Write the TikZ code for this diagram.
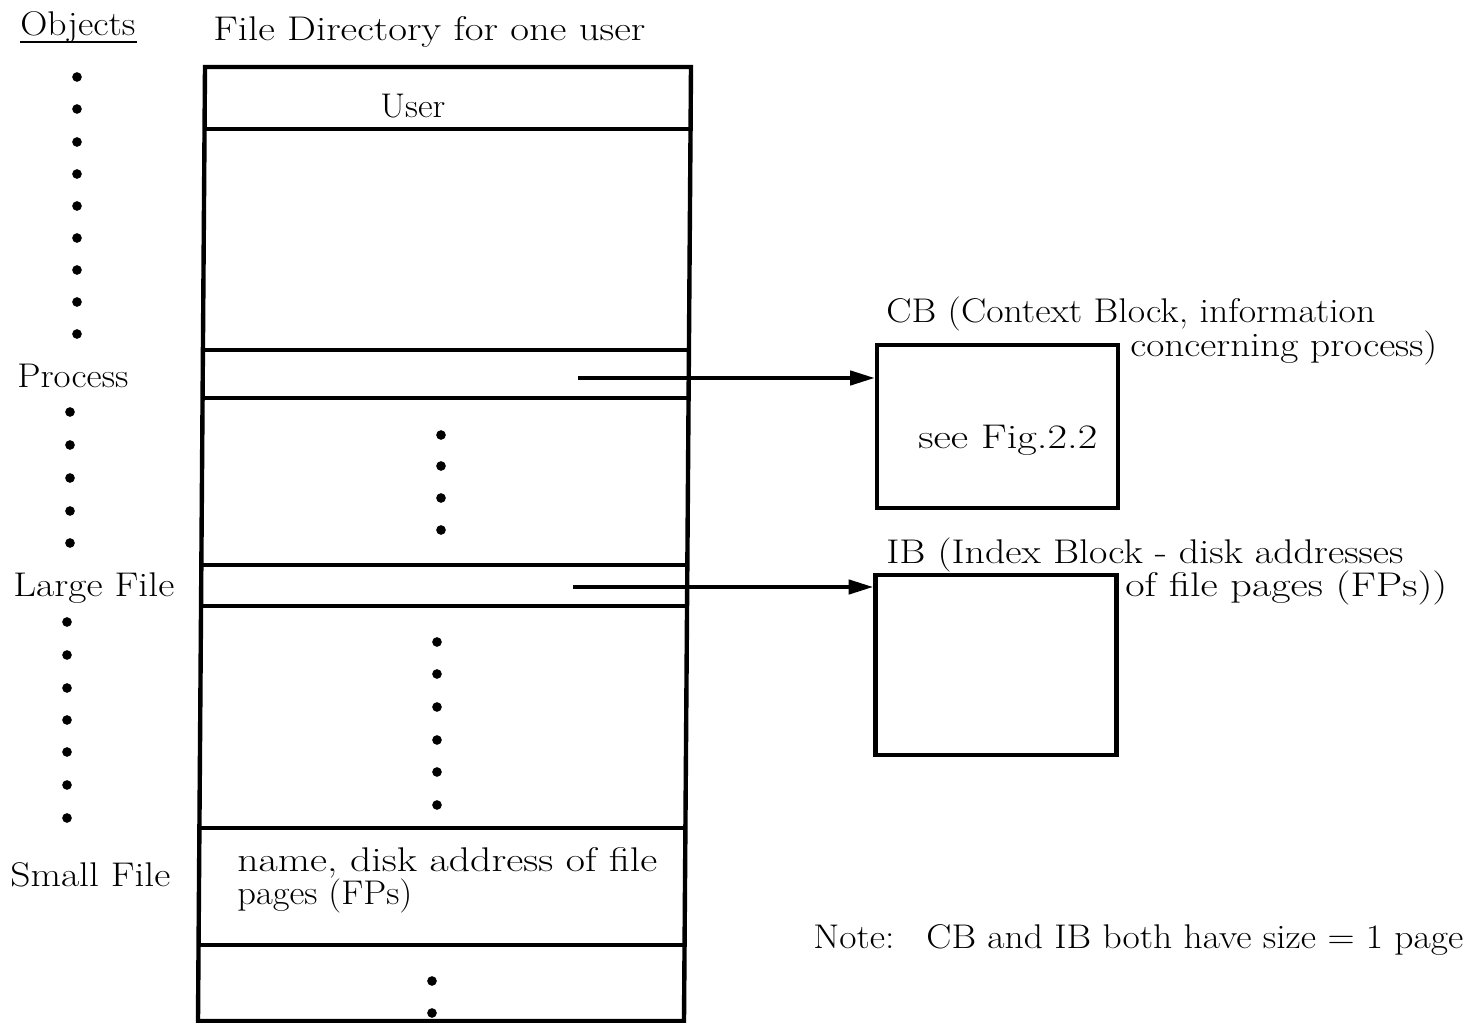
\documentclass[tikz,border=0pt]{standalone}
\usepackage{graphicx}
\usetikzlibrary{arrows.meta}
\newcommand{\fitw}[2]{\resizebox{\dimexpr 0.02cm*#1\relax}{\height}{#2}}
\begin{document}
\begin{tikzpicture}[x=0.02cm,y=-0.02cm,
  txt/.style={font=\fontsize{19.5}{23}\selectfont, inner sep=0pt, anchor=base west},
  heavy/.style={line width=2.5pt, line cap=rect},
  blockbox/.style={draw, line width=2.5pt, minimum width=4.82cm, inner sep=0pt},
  ptr/.style={line width=2.3pt, -{Triangle[length=14pt,width=8pt]}},
  dot/.style={circle, fill, inner sep=0pt, minimum size=5.5pt}]
\useasboundingbox (0,0) rectangle (1472,1023);

% headings
\node[txt] (objects) at (20,36) {\fitw{115}{Objects}};
\draw[line width=1.2pt] (objects.base west) ++(0,6) -- ++(117,0);
\node[txt] (fdtitle) at (213,41) {\fitw{432}{File Directory for one user}};

% left column labels
\node[txt] (process) at (17,388) {\fitw{111}{Process}};
\node[txt] (largefile) at (13,597) {\fitw{161}{Large File}};
\node[txt] (smallfile) at (10,887) {\fitw{160}{Small File}};

% left column dots
\foreach \y in {77,109,142,174,206,238,270,302,334} \node[dot] at (77,\y) {};
\foreach \y in {412,445,478,511,543} \node[dot] at (70,\y) {};
\foreach \y in {622,655,688,720,752,785,818} \node[dot] at (67,\y) {};

% directory table
\draw[heavy] (205,67) -- (691,67) -- (684,1021) -- (198,1021) -- cycle;
\draw[heavy] (205,129) -- (691,129);
\draw[heavy] (203,350) -- (689,350);
\draw[heavy] (203,398) -- (688,398);
\draw[heavy] (201,565) -- (687,565);
\draw[heavy] (201,606) -- (687,606);
\draw[heavy] (200,828) -- (685,828);
\draw[heavy] (199,945) -- (685,945);
\node[txt] (user) at (380,118) {\fitw{65}{User}};
\node[txt] (sf1) at (237,872) {\fitw{420}{name, disk address of file}};
\node[txt] (sf2) at (237,905) {\fitw{175}{pages (FPs)}};

% table dots
\foreach \y in {435,466,498,530} \node[dot] at (441,\y) {};
\foreach \y in {642,674,707,740,772,805} \node[dot] at (437,\y) {};
\foreach \y in {981,1013} \node[dot] at (432,\y) {};

% CB and IB blocks
\node[blockbox, minimum height=3.26cm] (cb) at (997.5,426.5) {};
\node[blockbox, minimum height=3.6cm] (ib) at (996,665) {};
\node[txt] (cbl1) at (886,323) {\fitw{489}{CB (Context Block, information}};
\node[txt] (cbl2) at (1130,357) {\fitw{307}{concerning process)}};
\node[txt] (seefig) at (918,449) {\fitw{179}{see Fig.2.2}};
\node[txt] (ibl1) at (886,564) {\fitw{517}{IB (Index Block - disk addresses}};
\node[txt] (ibl2) at (1125,597) {\fitw{322}{of file pages (FPs))}};

% pointers
\coordinate (pp) at (578,378);
\coordinate (lp) at (573,587);
\draw[ptr] (pp) -- (pp -| cb.west);
\draw[ptr] (lp) -- (lp -| ib.west);

% note
\node[txt] (note) at (813,949) {\fitw{650}{Note:\hspace{0.45em} CB and IB both have size = 1 page}};
\end{tikzpicture}
\end{document}
